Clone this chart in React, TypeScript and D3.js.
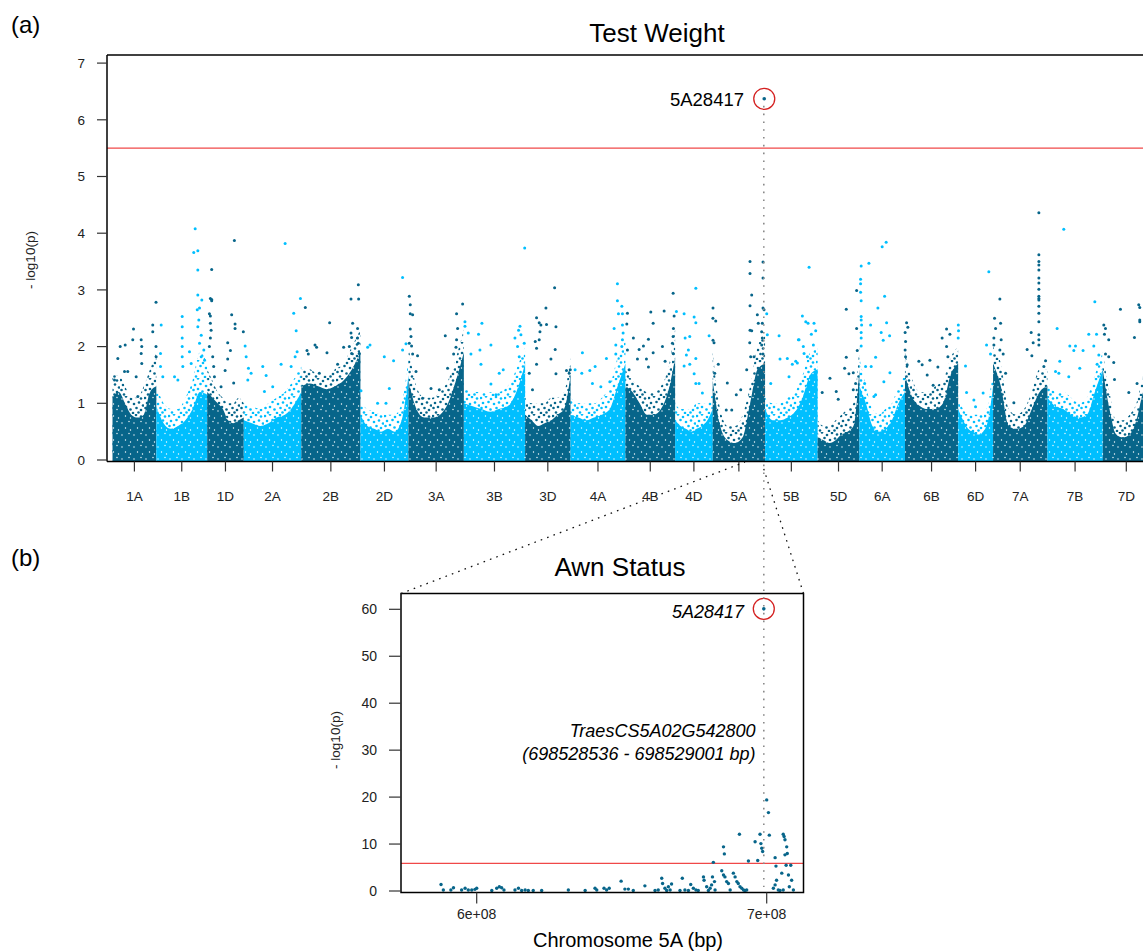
import React from 'react';
import * as d3 from 'd3';

// chromosome layout (Mb)
const chromosomes = ['1A', '1B', '1D', '2A', '2B', '2D', '3A', '3B', '3D', '4A', '4B', '4D', '5A', '5B', '5D', '6A', '6B', '6D', '7A', '7B', '7D'];
const chromLengthsMb = [594.1, 689.9, 495.5, 780.8, 801.3, 651.9, 750.8, 830.8, 615.6, 744.6, 673.6, 509.9, 709.8, 713.1, 566.1, 618.1, 721.0, 473.6, 736.7, 750.6, 638.7];

// upper edge of the solid mass of markers, 8 evenly spaced bins per chromosome (-log10 p)
const coreTops = [
  [1.1, 1.2, 1.0, 0.8, 0.75, 0.8, 1.2, 1.3],
  [0.95, 0.65, 0.55, 0.6, 0.7, 0.9, 1.2, 1.15],
  [1.2, 1.1, 1.0, 0.9, 0.7, 0.65, 0.7, 0.75],
  [0.7, 0.65, 0.6, 0.65, 0.75, 0.8, 0.95, 1.2],
  [1.3, 1.35, 1.3, 1.25, 1.3, 1.4, 1.6, 1.9],
  [0.8, 0.6, 0.55, 0.5, 0.55, 0.5, 0.7, 1.5],
  [1.4, 0.9, 0.75, 0.75, 0.8, 1.0, 1.4, 1.9],
  [1.0, 0.95, 0.9, 0.85, 0.9, 0.95, 1.2, 1.7],
  [0.8, 0.7, 0.6, 0.65, 0.7, 0.8, 0.9, 1.5],
  [0.8, 0.75, 0.7, 0.75, 0.8, 0.9, 1.3, 1.7],
  [1.3, 1.2, 1.0, 0.8, 0.8, 0.9, 1.2, 1.8],
  [0.7, 0.6, 0.55, 0.5, 0.55, 0.6, 0.7, 0.9],
  [1.4, 0.6, 0.35, 0.3, 0.4, 1.0, 1.6, 1.7],
  [0.9, 0.7, 0.7, 0.75, 0.85, 1.1, 1.5, 1.6],
  [0.4, 0.35, 0.3, 0.35, 0.45, 0.5, 0.6, 1.6],
  [1.3, 1.0, 0.6, 0.5, 0.55, 0.7, 1.0, 1.2],
  [1.5, 1.1, 0.95, 0.9, 0.9, 1.0, 1.5, 1.7],
  [0.9, 0.7, 0.55, 0.5, 0.45, 0.5, 0.7, 1.3],
  [1.7, 1.3, 0.6, 0.55, 0.6, 0.9, 1.2, 1.3],
  [1.1, 0.95, 0.9, 0.8, 0.75, 0.8, 1.2, 1.6],
  [1.6, 0.9, 0.45, 0.4, 0.45, 0.7, 1.2, 1.4],
];

// upper edge of the looser cloud of markers above the solid mass, same bins
const haloTops = [
  [1.5, 1.5, 1.3, 1.1, 1.1, 1.3, 1.6, 1.9],
  [1.3, 1.0, 0.9, 0.9, 1.1, 1.4, 1.9, 1.7],
  [1.6, 1.4, 1.2, 1.1, 1.0, 1.0, 1.1, 1.0],
  [1.0, 0.95, 0.9, 1.0, 1.1, 1.2, 1.4, 1.7],
  [1.6, 1.6, 1.5, 1.5, 1.6, 1.7, 2.0, 2.3],
  [1.0, 0.9, 0.85, 0.8, 0.8, 0.8, 1.0, 1.8],
  [2.0, 1.3, 1.1, 1.1, 1.2, 1.4, 1.8, 2.3],
  [1.3, 1.2, 1.2, 1.2, 1.2, 1.3, 1.6, 2.0],
  [1.1, 1.0, 1.0, 1.0, 1.1, 1.1, 1.2, 1.8],
  [1.1, 1.0, 1.0, 1.0, 1.1, 1.3, 1.8, 2.1],
  [1.6, 1.4, 1.3, 1.2, 1.2, 1.3, 1.6, 2.3],
  [1.0, 0.9, 0.9, 0.9, 1.0, 1.0, 1.0, 1.2],
  [1.9, 0.9, 0.6, 0.6, 0.8, 1.3, 2.0, 2.2],
  [1.1, 1.0, 1.0, 1.1, 1.2, 1.5, 1.9, 2.0],
  [0.7, 0.6, 0.6, 0.7, 0.8, 0.9, 1.0, 2.0],
  [1.8, 1.3, 0.9, 0.8, 0.9, 1.0, 1.3, 1.5],
  [1.9, 1.4, 1.2, 1.2, 1.3, 1.4, 1.8, 2.0],
  [1.1, 0.9, 0.8, 0.8, 0.8, 0.8, 1.0, 1.6],
  [2.0, 1.7, 0.9, 0.8, 0.9, 1.2, 1.6, 1.6],
  [1.4, 1.2, 1.2, 1.1, 1.0, 1.1, 1.5, 1.9],
  [1.9, 1.2, 0.7, 0.7, 0.8, 1.0, 1.5, 1.7],
];

// scattered markers above the mass: [position Mb, -log10 p], one list per chromosome
const testWeightHits: [number, number][][] = [
  [[27, 1.41], [72, 1.79], [104, 2.0], [172, 2.03], [207, 1.56], [275, 2.12], [285, 2.31], [321, 1.47], [389, 2.12], [389, 1.88], [397, 1.7], [397, 2.0], [546, 2.38], [546, 2.26], [590, 2.78], [590, 2.0], [592, 1.82], [163, 1.56], [343, 1.12]],
  [[66, 2.38], [57, 1.88], [57, 1.65], [88, 1.47], [247, 1.47], [292, 1.41], [351, 2.53], [351, 2.35], [351, 2.15], [351, 2.0], [351, 1.82], [359, 1.65], [450, 1.91], [527, 4.08], [508, 3.66], [563, 3.69], [563, 3.35], [563, 2.91], [586, 2.68], [617, 2.82], [555, 2.65], [576, 2.47], [563, 2.35], [586, 2.06], [609, 2.2], [644, 1.94], [654, 1.76], [609, 1.82], [473, 1.7]],
  [[61, 3.36], [43, 2.85], [61, 2.83], [61, 2.81], [30, 2.58], [43, 2.54], [43, 2.41], [53, 2.29], [43, 2.15], [30, 2.0], [75, 1.82], [88, 1.65], [98, 1.47], [188, 1.29], [369, 3.87], [332, 2.56], [378, 2.4], [378, 2.32], [278, 2.07], [315, 1.93], [278, 1.78], [490, 2.26], [243, 1.58], [359, 1.36]],
  [[19, 2.01], [33, 1.82], [64, 1.62], [100, 1.53], [55, 1.41], [258, 1.65], [304, 1.49], [393, 1.29], [507, 1.69], [561, 3.82], [678, 2.59], [711, 2.28], [769, 2.85], [697, 1.82], [724, 1.91], [643, 1.65], [281, 1.21]],
  [[54, 2.69], [77, 1.93], [95, 1.87], [186, 2.03], [207, 1.99], [244, 1.53], [384, 2.42], [348, 1.89], [492, 1.69], [574, 1.99], [674, 2.84], [777, 2.84], [773, 3.09], [696, 2.41], [674, 2.24], [682, 2.16], [763, 2.15], [773, 2.06], [786, 1.88], [651, 2.0], [682, 1.88], [763, 2.32]],
  [[8, 1.22], [98, 1.99], [130, 2.03], [324, 1.82], [392, 1.26], [450, 1.75], [572, 3.22], [618, 2.05], [572, 1.94], [233, 1.0], [347, 1.0]],
  [[11, 2.89], [24, 2.74], [24, 2.58], [56, 2.56], [24, 2.31], [34, 2.18], [11, 2.06], [42, 2.01], [56, 1.87], [123, 1.84], [102, 1.56], [499, 2.19], [530, 1.62], [612, 1.87], [191, 1.09], [305, 1.26], [418, 1.24], [652, 2.58], [666, 2.32], [652, 2.12], [734, 2.75], [644, 1.99]],
  [[15, 2.44], [15, 2.36], [60, 2.24], [96, 1.87], [199, 2.22], [245, 2.41], [218, 1.94], [232, 1.69], [367, 2.03], [367, 1.34], [480, 1.53], [534, 1.59], [693, 2.15], [742, 2.29], [761, 2.36], [774, 2.21], [825, 3.74], [728, 2.0], [751, 1.82], [819, 2.06], [435, 1.15]],
  [[56, 1.53], [137, 2.09], [155, 1.97], [155, 2.51], [191, 2.42], [214, 2.38], [201, 2.26], [191, 2.12], [282, 2.68], [290, 2.39], [400, 3.04], [418, 2.35], [408, 1.95], [350, 1.78], [418, 1.52], [561, 1.58], [598, 1.53], [612, 1.59], [155, 1.69], [100, 1.24]],
  [[62, 1.59], [161, 1.89], [153, 1.53], [262, 1.58], [334, 1.65], [297, 1.35], [411, 1.29], [487, 1.79], [533, 1.38], [591, 2.32], [614, 2.03], [636, 3.11], [636, 2.81], [696, 2.71], [704, 2.58], [650, 2.58], [704, 2.38], [713, 2.24], [704, 2.12], [696, 2.0], [614, 1.87]],
  [[19, 2.4], [27, 2.59], [27, 1.94], [50, 1.59], [108, 2.15], [186, 1.95], [244, 2.01], [312, 2.13], [344, 2.61], [376, 2.41], [376, 1.89], [312, 1.64], [285, 1.78], [525, 2.63], [538, 1.74], [647, 2.94], [660, 2.54], [651, 2.32], [647, 2.18], [637, 2.06], [647, 1.88], [502, 2.0], [163, 1.78]],
  [[18, 2.62], [122, 2.58], [281, 3.03], [258, 2.52], [281, 2.42], [199, 2.18], [136, 2.15], [180, 1.94], [153, 1.85], [281, 1.79], [122, 1.66], [199, 1.69], [258, 1.52], [325, 1.35], [281, 1.35], [461, 2.19], [370, 1.18]],
  [[4, 2.68], [3, 2.5], [41, 2.45], [4, 2.11], [18, 2.07], [27, 1.53], [76, 1.69], [198, 1.36], [184, 0.88], [258, 0.88], [320, 1.15], [380, 1.24], [506, 3.5], [506, 3.29], [529, 2.91], [506, 2.72], [506, 2.29], [529, 2.28], [502, 2.07], [515, 1.82], [560, 1.82], [605, 2.56], [618, 2.41], [682, 3.49], [682, 3.21], [682, 2.68], [696, 2.65], [673, 2.41], [664, 2.26], [673, 2.15], [664, 2.03], [682, 1.87], [461, 1.59], [628, 1.59]],
  [[23, 2.58], [31, 2.21], [77, 1.35], [190, 2.19], [203, 1.78], [302, 1.79], [325, 1.47], [370, 1.69], [416, 1.74], [452, 2.12], [597, 3.4], [506, 2.54], [461, 2.12], [552, 2.44], [583, 2.41], [664, 2.41], [628, 2.22], [687, 2.28], [519, 2.0], [655, 2.03], [529, 1.88], [574, 1.82], [438, 1.71]],
  [[62, 1.19], [167, 1.44], [252, 1.21], [279, 1.07], [366, 1.62], [388, 2.66], [388, 1.81], [424, 1.52], [483, 1.54], [529, 2.99], [529, 2.32], [537, 1.93], [515, 1.35], [483, 1.24]],
  [[24, 3.42], [16, 3.19], [16, 3.11], [16, 2.96], [24, 2.81], [24, 2.53], [24, 2.47], [30, 2.38], [24, 2.25], [24, 2.15], [24, 2.01], [129, 3.47], [309, 3.76], [363, 3.84], [342, 2.89], [251, 2.68], [152, 2.38], [296, 2.25], [410, 2.19], [323, 2.11], [369, 2.42], [220, 1.81], [160, 1.65], [414, 1.54], [332, 1.38], [197, 1.12], [220, 1.15], [71, 1.35], [84, 1.65]],
  [[22, 2.42], [39, 2.34], [2, 2.25], [8, 2.09], [2, 1.94], [8, 1.82], [30, 1.68], [188, 1.74], [233, 1.68], [338, 1.76], [301, 1.5], [446, 1.64], [382, 1.32], [564, 2.31], [609, 2.22], [504, 2.15], [582, 1.82], [564, 2.0], [663, 1.35], [618, 1.38]],
  [[2, 2.38], [5, 2.28], [1, 2.15], [100, 1.66], [114, 1.19], [213, 1.06], [236, 0.94], [416, 3.32], [385, 2.03], [439, 1.87], [339, 1.18]],
  [[92, 2.84], [20, 2.5], [34, 2.32], [11, 2.15], [11, 2.03], [102, 2.41], [110, 2.12], [92, 1.94], [137, 1.87], [170, 1.53], [282, 1.01], [517, 2.25], [462, 1.95], [526, 1.84], [621, 4.36], [621, 3.62], [621, 3.5], [621, 3.44], [621, 3.35], [621, 3.21], [621, 3.12], [621, 3.01], [621, 2.89], [621, 2.85], [621, 2.82], [621, 2.71], [621, 2.59], [621, 2.44], [621, 2.21], [621, 2.12], [621, 2.03], [712, 1.75], [689, 1.65], [544, 2.07]],
  [[132, 2.32], [168, 1.74], [110, 1.56], [155, 1.53], [222, 4.07], [304, 2.01], [381, 2.01], [358, 1.93], [484, 1.93], [439, 1.62], [561, 2.22], [643, 2.79], [666, 2.22], [629, 2.01], [697, 1.85], [674, 1.69], [290, 1.47]],
  [[14, 2.38], [37, 2.32], [23, 2.22], [81, 2.12], [37, 1.87], [81, 1.82], [149, 1.72], [159, 1.42], [240, 2.66], [430, 2.16], [488, 2.74], [502, 2.69], [502, 2.47], [502, 2.44], [465, 1.35], [353, 1.19]],
];

// Awn status, chromosome 5A region: [position Mb, -log10 p]
const awnHits: [number, number][] = [
  [587.7, 1.4], [588.5, 0.2], [591.1, 0.2], [592.0, 0.7], [594.8, 0.2], [596.0, 0.6], [597.1, 0.2], [598.3, 0.2], [599.4, 0.35], [600.0, 0.6],
  [605.2, 0.1], [606.9, 0.6], [607.8, 0.9], [608.6, 0.7], [609.4, 0.2], [613.2, 0.2], [614.4, 0.6], [615.5, 0.1], [616.7, 0.2], [617.8, 0.1],
  [619.5, 0.1], [622.4, 0.1], [631.6, 0.2], [637.4, 0.1], [640.8, 0.6], [641.4, 0.2], [643.9, 0.6], [644.8, 0.2], [645.7, 0.6], [649.8, 2.1],
  [651.1, 0.4], [652.3, 0.4], [654.0, 0.1], [658.0, 1.1], [661.5, 0.1], [662.6, 0.2], [663.8, 2.7], [664.1, 1.6], [664.9, 0.6], [665.5, 0.1],
  [666.1, 0.9], [666.7, 0.2], [667.2, 1.5], [670.1, 0.1], [670.9, 2.7], [671.8, 0.2], [673.0, 0.1], [673.8, 1.4], [674.7, 0.6], [675.6, 0.2],
  [676.4, 0.1], [678.2, 3.0], [678.4, 2.3], [679.3, 0.9], [679.9, 0.1], [680.5, 0.6], [681.0, 1.3], [681.3, 3.0], [681.6, 6.1], [682.0, 2.0],
  [682.2, 0.2], [684.5, 4.3], [685.1, 3.4], [685.6, 3.0], [686.2, 2.0], [686.8, 1.6], [687.4, 0.2], [688.5, 3.8], [689.1, 3.0], [689.7, 2.0],
  [690.2, 1.6], [690.8, 0.9], [691.4, 0.6], [692.0, 0.2], [692.5, 0.1], [693.1, 0.2], [685.1, 9.4], [685.4, 7.9], [690.6, 12.1], [693.7, 6.4],
  [696.0, 10.5], [696.9, 6.5], [697.7, 12.1], [698.0, 10.1], [698.3, 9.1], [698.6, 8.4], [700.0, 19.4], [700.6, 16.7], [700.9, 11.9], [702.9, 7.1],
  [703.2, 5.3], [703.4, 2.3], [702.9, 1.3], [702.3, 0.6], [704.0, 0.2], [705.2, 3.8], [705.7, 12.1], [706.0, 11.6], [706.3, 10.9], [706.9, 9.4],
  [707.1, 8.0], [706.3, 7.7], [706.7, 5.5], [707.5, 3.4], [708.3, 5.5], [708.6, 2.3], [709.2, 0.2], [707.8, 0.9], [705.7, 0.2], [704.6, 0.1],
];

const leadSnpName = '5A28417';
const leadSnpChrom = '5A';
const leadSnpPosMb = 699.0;
const leadSnpTestWeight = 6.37;
const leadSnpAwn = 60.1;
const thresholdTestWeight = 5.5;
const thresholdAwn = 5.9;
const yTicksTestWeight = [0, 1, 2, 3, 4, 5, 6, 7];
const yTicksAwn = [0, 10, 20, 30, 40, 50, 60];
const xTicksAwnMb = [600, 700];
const xTickLabelsAwn = ['6e+08', '7e+08'];
const geneName = 'TraesCS5A02G542800';
const geneSpan = '(698528536 - 698529001 bp)';

const DARK = '#07658a';
const LIGHT = '#00bfff';
const RED = '#f04848';
const FONT = '"Liberation Sans", Arial, Helvetica, sans-serif';

// speck layouts for the pattern tiles (style only)
const cloudSpecks = [
  [1, 2], [6, 0.5], [11, 3], [16, 1], [21, 2.5], [3, 7], [8.5, 6], [14, 8], [19, 6.5],
  [23, 9.5], [1.5, 12], [6, 11], [10.5, 13.5], [16.5, 12], [21, 14], [4, 16.5], [13, 17], [18.5, 16.5],
];
const coreHoles = [[2, 3], [9, 1.5], [5.5, 8], [10.5, 10]];

export default function App() {
  const width = 1143;
  const height = 951;

  // top panel: genome-wide
  const ends = d3.cumsum(chromLengthsMb);
  const offsets = chromLengthsMb.map((len, i) => ends[i] - len);
  const total = ends[ends.length - 1];
  const xTop = d3.scaleLinear().domain([0, total]).range([112.5, 112.5 + total / 13.56]);
  const yTop = d3.scaleLinear().domain([0, 7]).range([460, 63.1]);
  const top = { left: 107, top: 55, bottom: 461.5 };

  const massArea = d3.area<[number, number]>()
    .x(d => xTop(d[0]))
    .y0(yTop(-0.02))
    .y1(d => yTop(d[1]))
    .curve(d3.curveMonotoneX);

  const binned = (vals: number[], i: number): [number, number][] =>
    vals.map((v, j) => [offsets[i] + (chromLengthsMb[i] * j) / (vals.length - 1), v]);

  // bottom panel: 5A zoom
  const xAwn = d3.scaleLinear().domain([600, 700]).range([476.7, 766.7]);
  const yAwn = d3.scaleLinear().domain([0, 60]).range([891, 609.3]);
  const bot = { left: 401, right: 803.5, top: 593.5, bottom: 892.5 };

  const leadIdx = chromosomes.indexOf(leadSnpChrom);
  const leadXTop = xTop(offsets[leadIdx] + leadSnpPosMb);
  const leadXAwn = xAwn(leadSnpPosMb);

  return (
    <svg
      width={width}
      height={height}
      style={{ position: 'absolute', left: 0, top: 0, background: '#fff' }}
      fontFamily={FONT}
    >
      <defs>
        {[['Dark', DARK], ['Light', LIGHT]].map(([k, col]) => (
          <React.Fragment key={k}>
            <pattern id={`cloud${k}`} width={24} height={18} patternUnits="userSpaceOnUse">
              {cloudSpecks.map(([x, y], j) => <circle key={j} cx={x} cy={y} r={1.3} fill={col} />)}
            </pattern>
            <pattern id={`core${k}`} width={12} height={12} patternUnits="userSpaceOnUse">
              <rect width={12} height={12} fill={col} />
              {coreHoles.map(([x, y], j) => <circle key={j} cx={x} cy={y} r={0.7} fill="#fff" />)}
            </pattern>
          </React.Fragment>
        ))}
      </defs>

      <rect x={0} y={0} width={width} height={height} fill="#fff" />

      {/* panel labels */}
      <text x={11} y={33} fontSize={24}>(a)</text>
      <text x={11} y={566} fontSize={24}>(b)</text>

      {/* ---------- (a) Test Weight ---------- */}
      <text x={657} y={42} fontSize={26} textAnchor="middle">Test Weight</text>

      <g>
        {chromosomes.map((c, i) => (
          <path key={'h' + c} d={massArea(binned(haloTops[i], i)) || ''} fill={`url(#cloud${i % 2 === 0 ? 'Dark' : 'Light'})`} />
        ))}
        {chromosomes.map((c, i) => (
          <path key={'c' + c} d={massArea(binned(coreTops[i], i)) || ''} fill={`url(#core${i % 2 === 0 ? 'Dark' : 'Light'})`} />
        ))}
        {chromosomes.map((c, i) =>
          testWeightHits[i].map((d, j) => (
            <circle
              key={c + j}
              cx={xTop(offsets[i] + d[0])}
              cy={yTop(d[1])}
              r={1.5}
              fill={i % 2 === 0 ? DARK : LIGHT}
            />
          ))
        )}
      </g>

      <line x1={top.left} x2={width} y1={yTop(thresholdTestWeight)} y2={yTop(thresholdTestWeight)} stroke={RED} strokeWidth={1.3} />

      {/* frame */}
      <line x1={top.left} x2={width} y1={top.top} y2={top.top} stroke="#000" strokeWidth={1.5} />
      <line x1={top.left} x2={width} y1={top.bottom} y2={top.bottom} stroke="#000" strokeWidth={1.5} />
      <line x1={top.left} x2={top.left} y1={top.top} y2={top.bottom} stroke="#000" strokeWidth={1.5} />

      {/* y axis */}
      {yTicksTestWeight.map(t => (
        <g key={t}>
          <line x1={top.left - 10} x2={top.left} y1={yTop(t)} y2={yTop(t)} stroke="#333" strokeWidth={1.2} />
          <text x={85} y={yTop(t)} dy="0.35em" fontSize={13.5} textAnchor="end" fill="#222">{t}</text>
        </g>
      ))}
      <text transform={`translate(35,260) rotate(-90)`} fontSize={13.5} textAnchor="middle" fill="#222">- log10(p)</text>

      {/* x axis chromosomes */}
      {chromosomes.map((c, i) => {
        const cx = xTop(offsets[i] + chromLengthsMb[i] / 2);
        return (
          <g key={c}>
            <line x1={cx} x2={cx} y1={top.bottom} y2={top.bottom + 10} stroke="#333" strokeWidth={1.2} />
            <text x={cx} y={500.5} fontSize={13.5} textAnchor="middle" fill="#222">{c}</text>
          </g>
        );
      })}

      {/* lead SNP in (a) */}
      <circle cx={leadXTop} cy={yTop(leadSnpTestWeight)} r={1.8} fill={DARK} />
      <circle cx={leadXTop} cy={yTop(leadSnpTestWeight)} r={10.5} fill="none" stroke="#d42020" strokeWidth={1.3} />
      <text x={744} y={106} fontSize={18.5} textAnchor="end">{leadSnpName}</text>

      {/* ---------- (b) Awn Status ---------- */}
      <text x={620} y={576} fontSize={26} textAnchor="middle">Awn Status</text>

      <line x1={bot.left} x2={bot.right} y1={yAwn(thresholdAwn)} y2={yAwn(thresholdAwn)} stroke={RED} strokeWidth={1.3} />

      {awnHits.map((d, i) => (
        <circle key={i} cx={xAwn(d[0])} cy={yAwn(d[1])} r={1.7} fill={DARK} />
      ))}

      <rect x={bot.left} y={bot.top} width={bot.right - bot.left} height={bot.bottom - bot.top} fill="none" stroke="#000" strokeWidth={1.5} />

      {yTicksAwn.map(t => (
        <g key={t}>
          <line x1={bot.left - 12} x2={bot.left} y1={yAwn(t)} y2={yAwn(t)} stroke="#333" strokeWidth={1.2} />
          <text x={377} y={yAwn(t)} dy="0.35em" fontSize={14} textAnchor="end" fill="#222">{t}</text>
        </g>
      ))}
      <text transform={`translate(340,740) rotate(-90)`} fontSize={13.5} textAnchor="middle" fill="#222">- log10(p)</text>

      {xTicksAwnMb.map((t, i) => (
        <g key={t}>
          <line x1={xAwn(t)} x2={xAwn(t)} y1={bot.bottom} y2={bot.bottom + 11} stroke="#333" strokeWidth={1.2} />
          <text x={xAwn(t)} y={918.5} fontSize={14} textAnchor="middle" fill="#222">{xTickLabelsAwn[i]}</text>
        </g>
      ))}
      <text x={628} y={947} fontSize={20} textAnchor="middle">Chromosome 5A (bp)</text>

      <circle cx={leadXAwn} cy={yAwn(leadSnpAwn)} r={1.8} fill={DARK} />
      <circle cx={leadXAwn} cy={yAwn(leadSnpAwn)} r={10.5} fill="none" stroke="#d42020" strokeWidth={1.3} />
      <text x={744} y={618} fontSize={18} fontStyle="italic" textAnchor="end">{leadSnpName}</text>

      <text x={755.5} y={737} fontSize={18} fontStyle="italic" textAnchor="end">{geneName}</text>
      <text x={755.5} y={760} fontSize={18} fontStyle="italic" textAnchor="end">{geneSpan}</text>

      {/* connectors */}
      <line x1={leadXAwn} x2={leadXAwn} y1={yTop(leadSnpTestWeight) + 7} y2={887} stroke="#8a8a8a" strokeWidth={1.6} strokeDasharray="1.6 6.2" />
      <line x1={bot.left} y1={bot.top} x2={745} y2={462} stroke="#111" strokeWidth={1.3} strokeDasharray="1.6 5.2" />
      <line x1={bot.right} y1={bot.top} x2={762.5} y2={465} stroke="#111" strokeWidth={1.3} strokeDasharray="1.6 5.2" />
    </svg>
  );
}
